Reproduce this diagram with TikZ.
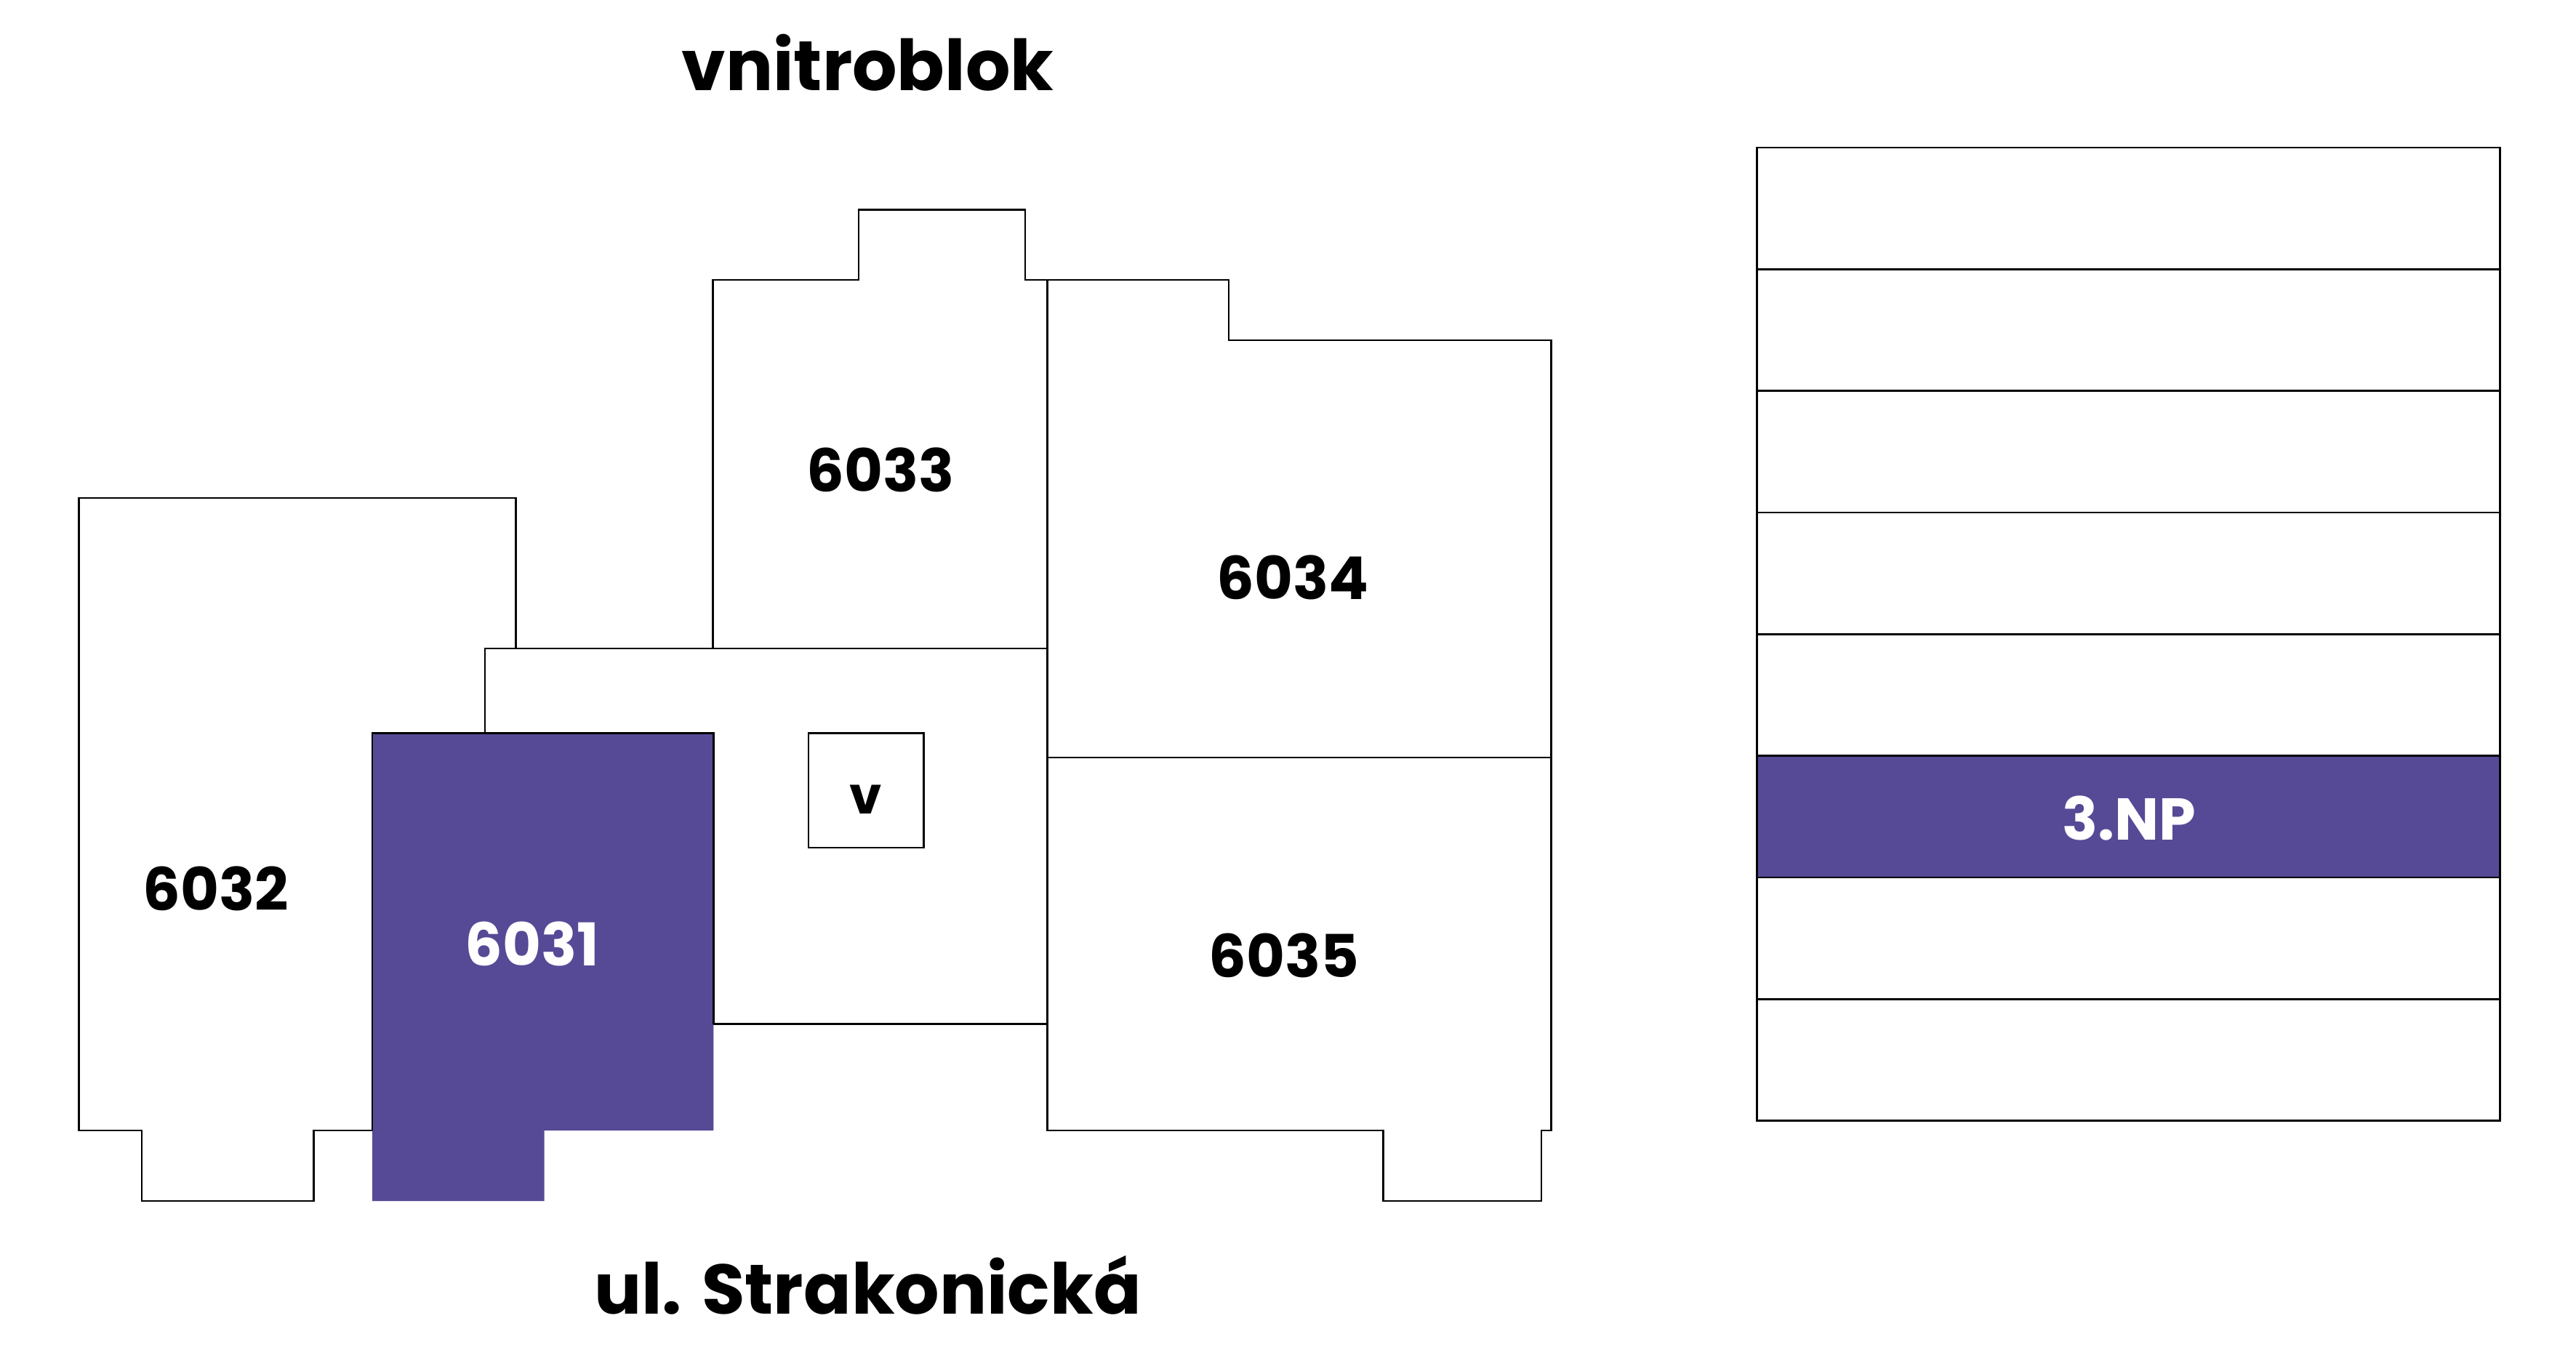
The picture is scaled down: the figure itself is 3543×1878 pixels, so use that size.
\documentclass[tikz,border=0pt]{standalone}
\usepackage{fontspec}
\setmainfont{Poppins}[BoldFont={Poppins Bold},UprightFont={Poppins Bold}]
\definecolor{accent}{HTML}{564A96}
\tikzset{
  x=0.24pt,y=-0.24pt,
  wall/.style={draw=black,line width=0.65pt,line join=miter},
  hilite/.style={fill=accent,draw=none},
  roomlabel/.style={anchor=base,inner sep=0pt,font=\fontsize{19.5}{24}\selectfont,text=black},
  invlabel/.style={roomlabel,text=white},
  liftlabel/.style={roomlabel,font=\fontsize{17}{20}\selectfont},
  bigtitle/.style={anchor=base,inner sep=0pt,font=\fontsize{23.2}{28}\selectfont,text=black}
}
\begin{document}
\begin{tikzpicture}
\useasboundingbox[fill=white] (0,0) rectangle (3543,1878);
% highlighted room
\fill[hilite] (512,1008.7) -- (981.4,1008.7) -- (981.4,1555) -- (748.5,1555) -- (748.5,1652) -- (512,1652) -- cycle;
% room 6032
\draw[wall] (512,1555) -- (431.4,1555) -- (431.4,1652) -- (195,1652) -- (195,1555) -- (108.7,1555) -- (108.7,685) -- (709.6,685) -- (709.6,892);
% corridor
\draw[wall] (667,1008.7) -- (667,892) -- (1440.6,892);
\draw[wall] (981.4,1408.7) -- (1440.6,1408.7);
% 6031 border
\draw[wall] (512,1555) -- (512,1008.7) -- (981.4,1008.7) -- (981.4,1408.7);
% room 6033
\draw[wall] (980.4,892) -- (980.4,385) -- (1181,385) -- (1181,288.8) -- (1410,288.8) -- (1410,385) -- (1440.6,385);
% rooms 6034 and 6035
\draw[wall] (1440.6,1555) -- (1440.6,385) -- (1690,385) -- (1690,468) -- (2133.5,468) -- (2133.5,1555) -- (2120,1555) -- (2120,1652) -- (1902.5,1652) -- (1902.5,1555) -- cycle;
\draw[wall] (1440.6,1042) -- (2133.5,1042);
% lift
\draw[wall] (1112,1008.7) rectangle (1270.6,1166);
% floors
\fill[hilite] (2416.8,1039.5) rectangle (3438.6,1207);
\draw[wall] (2416.8,202.9) rectangle (3438.6,1541.6);
\foreach \yy in {370.3,537.7,705.1,872.5,1039.5,1207,1374.5}
  \draw[wall] (2416.8,\yy) -- (3438.6,\yy);
% labels
\node[bigtitle] (tTop) at (1193.5,124) {vnitroblok};
\node[bigtitle] (tBot) at (1193.5,1807) {ul. Strakonická};
\node[roomlabel] (r6032) at (297,1252) {6032};
\node[invlabel] (r6031) at (732,1328) {6031};
\node[roomlabel] (r6033) at (1211,676) {6033};
\node[roomlabel] (r6034) at (1778,824) {6034};
\node[roomlabel] (r6035) at (1766,1344) {6035};
\node[liftlabel] (lift) at (1191,1119) {v};
\node[invlabel] (np) at (2928,1155) {3.NP};
\end{tikzpicture}
\end{document}
